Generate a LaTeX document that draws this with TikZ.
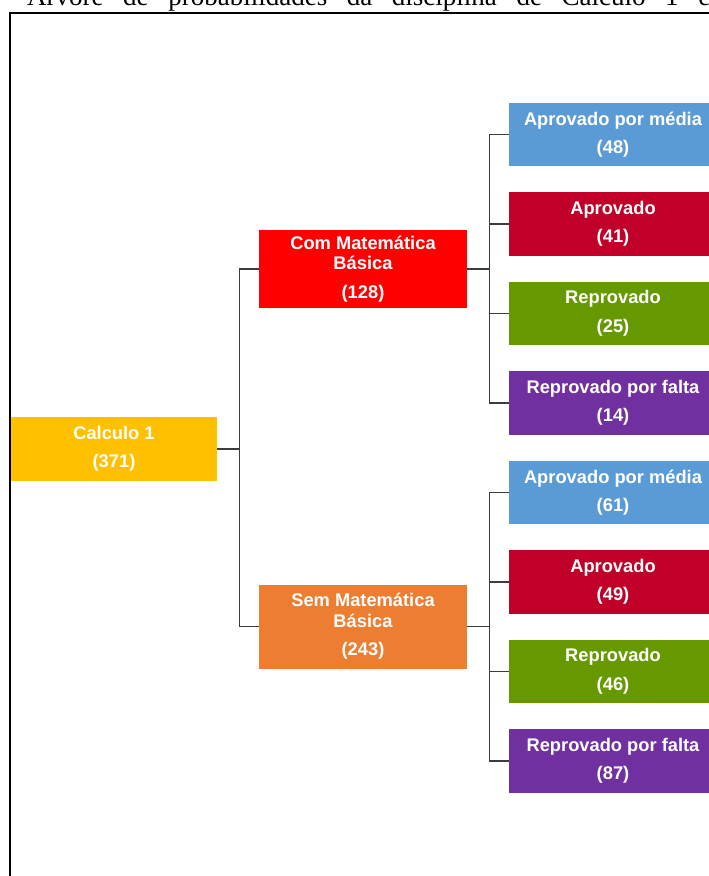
\documentclass[tikz,border=0pt]{standalone}
\usepackage{fontspec}
\setmainfont{Liberation Serif}
\newfontfamily\arialfont{Liberation Sans}
\definecolor{cYellow}{HTML}{FFC000}
\definecolor{cRed}{HTML}{FF0000}
\definecolor{cOrange}{HTML}{ED7D31}
\definecolor{cBlue}{HTML}{5B9BD5}
\definecolor{cCrimson}{HTML}{C00028}
\definecolor{cGreen}{HTML}{669900}
\definecolor{cPurple}{HTML}{7030A0}
\definecolor{linegray}{HTML}{3C3C3C}
\begin{document}
\begin{tikzpicture}[x=1pt,y=-1pt,
  box/.style={rectangle, inner sep=0pt, minimum width=208pt, minimum height=63.5pt,
    text=white, align=center, font=\arialfont\bfseries\fontsize{18.3}{20.5}\selectfont},
  conn/.style={draw=linegray, line width=1.3pt},
  frameline/.style={draw=black, line width=2pt}]
\useasboundingbox (0,0) rectangle (709,876);
\clip (0,0) rectangle (709,876);
% title (cut off at the top)
\node[anchor=base west, inner sep=0pt, font=\fontsize{27}{27}\selectfont] (title) at (27,5.5)
  {\makebox[683pt][s]{Árvore de probabilidades da disciplina de Cálculo 1 e}};
% frame
\coordinate (fbl) at (9.5,890);
\coordinate (ftl) at (9.5,12.5);
\coordinate (ftr) at (720,12.5);
\draw[frameline] (fbl) -- (ftl) -- (ftr);
% nodes
\node[box, fill=cYellow, minimum width=206pt, minimum height=64pt] (calc) at (114,449) {Calculo 1\\[8pt](371)};
\node[box, fill=cRed, minimum height=78pt] (com) at (363,269) {Com Matemática\\Básica\\[8pt](128)};
\node[box, fill=cOrange, minimum height=84pt] (sem) at (363,626.5) {Sem Matemática\\Básica\\[8pt](243)};
\node[box, fill=cBlue] (a1) at (613,134.5) {Aprovado por média\\[8pt](48)};
\node[box, fill=cCrimson] (b1) at (613,224) {Aprovado\\[8pt](41)};
\node[box, fill=cGreen] (c1) at (613,313.5) {Reprovado\\[8pt](25)};
\node[box, fill=cPurple] (d1) at (613,403) {Reprovado por falta\\[8pt](14)};
\node[box, fill=cBlue] (a2) at (613,492.5) {Aprovado por média\\[8pt](61)};
\node[box, fill=cCrimson] (b2) at (613,582) {Aprovado\\[8pt](49)};
\node[box, fill=cGreen] (c2) at (613,671.5) {Reprovado\\[8pt](46)};
\node[box, fill=cPurple] (d2) at (613,761) {Reprovado por falta\\[8pt](87)};
% connectors
\draw[conn] (calc.east) -- ++(22,0) |- (com.west);
\draw[conn] (calc.east) -- ++(22,0) |- (sem.west);
\foreach \t in {a1,b1,c1,d1}{\draw[conn] (com.east) -- ++(22,0) |- (\t.west);}
\foreach \t in {a2,b2,c2,d2}{\draw[conn] (sem.east) -- ++(22,0) |- (\t.west);}
\end{tikzpicture}
\end{document}
